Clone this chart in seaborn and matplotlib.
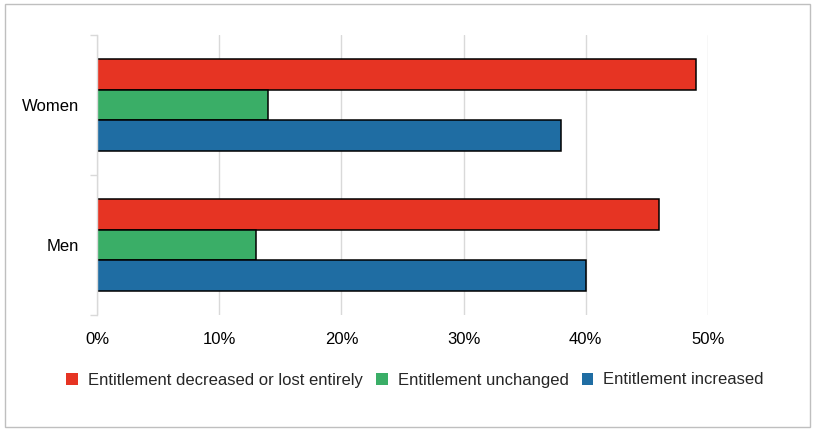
import matplotlib
matplotlib.use("Agg")
import matplotlib.pyplot as plt
import seaborn as sns
import pandas as pd
from matplotlib.patches import Rectangle
from matplotlib.ticker import FuncFormatter, FixedLocator

groups = ["Women", "Men"]
series = ["Entitlement decreased or lost entirely", "Entitlement unchanged", "Entitlement increased"]
decreased = [49, 46]
unchanged = [14, 13]
increased = [38, 40]
colors = ["#E63423", "#3AAE67", "#1F6DA3"]

rows = []
for i, g in enumerate(groups):
    for s, vals in zip(series, [decreased, unchanged, increased]):
        rows.append({"group": g, "series": s, "value": vals[i]})
df = pd.DataFrame(rows)

sns.set_theme(style="white")
plt.rcParams["font.family"] = ["Liberation Sans", "DejaVu Sans"]

fig = plt.figure(figsize=(8.18, 4.33), dpi=100)
ax = fig.add_axes([97/818, 1-315/433, (708-97)/818, (315-35)/433])

sns.barplot(data=df, x="value", y="group", hue="series", order=groups,
            hue_order=series, palette=colors, orient="h", width=0.66,
            saturation=1, edgecolor="black", linewidth=1.1, ax=ax, legend=True)

ax.set_xlim(0, 50)
ax.set_ylim(1.5, -0.5)
ax.set_xticks([0, 10, 20, 30, 40, 50])
ax.xaxis.set_major_formatter(FuncFormatter(lambda v, p: f"{int(v)}%"))
ax.grid(axis="x", color="#D9D9D9", linewidth=1)
ax.set_axisbelow(True)
ax.set_xlabel("")
ax.set_ylabel("")
for s in ["top", "right", "bottom"]:
    ax.spines[s].set_visible(False)
ax.spines["left"].set_color("#D9D9D9")
ax.spines["left"].set_linewidth(1)
ax.tick_params(axis="x", length=0, pad=12, labelsize=12, colors="black")
ax.tick_params(axis="y", which="major", length=0, pad=13, labelsize=12, colors="black")
ax.yaxis.set_minor_locator(FixedLocator([-0.5, 0.5, 1.5]))
ax.tick_params(axis="y", which="minor", length=5, width=1, color="#D9D9D9", left=True)

leg = ax.legend(loc="center", bbox_to_anchor=(415/818, 1-380/433), bbox_transform=fig.transFigure,
                ncol=3, frameon=False, fontsize=12, handlelength=0.7, handleheight=0.7,
                handletextpad=0.6, columnspacing=0.8)
for h in leg.legend_handles:
    h.set_edgecolor("none")

fig.patches.append(Rectangle((5/818, 1-427/433), (810-5)/818, (427-4)/433,
                             transform=fig.transFigure, fill=False,
                             edgecolor="#BFBFBF", linewidth=1))

fig.savefig("out.png", dpi=100)
